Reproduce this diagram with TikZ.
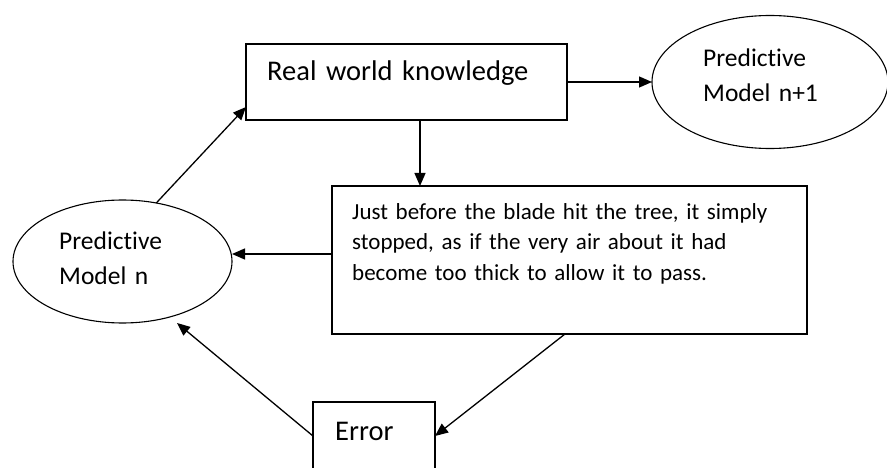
\documentclass[tikz,border=0pt]{standalone}
\usepackage{fontspec}
\setmainfont{Carlito}[Ligatures={NoCommon}]
\usetikzlibrary{arrows.meta,shapes.geometric,calc}

\begin{document}
\begin{tikzpicture}[x=1pt,y=-1pt,
  outline/.style={draw=black, line width=1.3pt, inner sep=0pt, outer sep=0pt},
  boxshape/.style={outline, rectangle},
  oval/.style={outline, ellipse, line width=1.1pt},
  arr/.style={draw=black, line width=1.3pt, -{Triangle[length=13pt,width=11pt]}},
  txt/.style={anchor=base west, inner sep=0pt, align=left, text width=#1},
  txt/.default=300pt,
  bigtext/.style={font=\fontsize{28.5}{34}\selectfont},
  ovaltext/.style={font=\fontsize{25.5}{35}\selectfont},
  storytext/.style={font=\fontsize{23}{30.5}\selectfont}]

\useasboundingbox (0,0) rectangle (887,468);
\clip (0,0) rectangle (887,468);

% shapes
\node[boxshape, minimum width=321pt, minimum height=76pt] (real) at (406.5,82) {};
\node[oval, minimum width=236pt, minimum height=133pt] (next) at (770,82) {};
\node[oval, minimum width=219pt, minimum height=123pt] (model) at (122.5,261.5) {};
\node[boxshape, minimum width=475pt, minimum height=148pt] (story) at (569.5,260) {};
\node[boxshape, minimum width=122pt, minimum height=68pt] (error) at (374,436) {};

% texts
\node[txt, bigtext] (realtxt) at (267,81) {Real world knowledge};
\node[txt=160pt, ovaltext] (nexttxt) at (703,66.7) {Predictive\\Model n+1};
\node[txt=160pt, ovaltext] (modeltxt) at (59,249.3) {Predictive\\Model n};
\node[txt=450pt, storytext] (storytxt) at (352,219.3)
  {Just before the blade hit the tree, it simply\\
   stopped, as if the very air about it had\\
   become too thick to allow it to pass.};
\node[txt=100pt, bigtext] (errortxt) at (335,440) {Error};

% connectors
\coordinate (mtip) at (177,323);
\draw[arr] (real.east) -- (next.west);
\draw[arr] ([xshift=13.5pt]real.south) -- ([xshift=13.5pt]real.south |- story.north);
\draw[arr] ([yshift=6pt]story.west) -- ([yshift=6pt]story.west -| model.east);
\draw[arr] (model.60) -- ([yshift=13pt]real.south west);
\draw[arr] ([xshift=-4.5pt]story.south) -- (error.east);
\draw[arr] (error.west) -- (mtip);
\end{tikzpicture}
\end{document}
